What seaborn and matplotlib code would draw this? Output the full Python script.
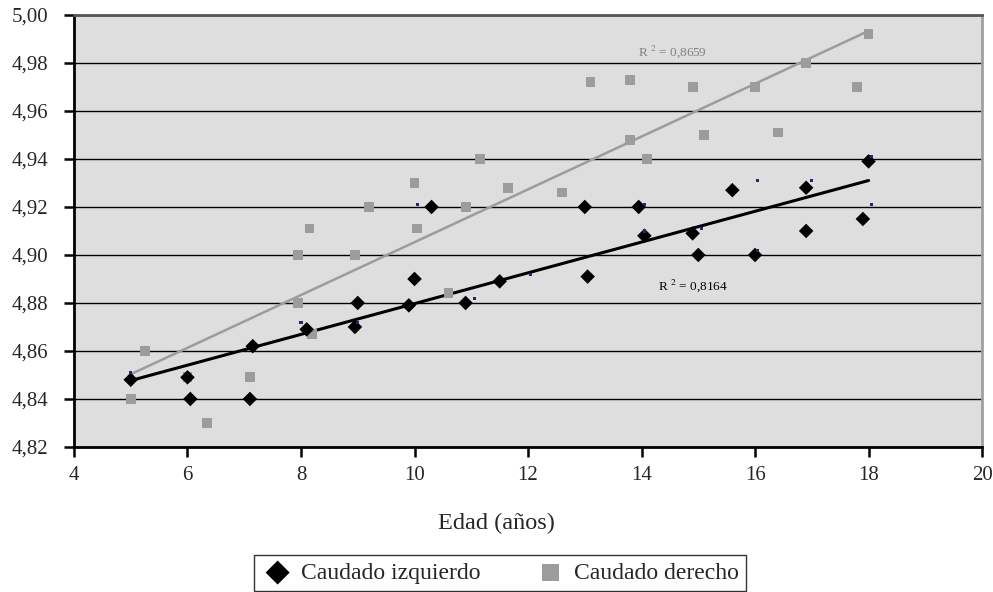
import matplotlib
matplotlib.use("Agg")
import matplotlib.pyplot as plt
import seaborn as sns
import pandas as pd
from matplotlib.ticker import FuncFormatter

# Caudado izquierdo (black diamonds)
izq_edad = [5.0, 6.0, 6.05, 7.1, 7.15, 8.1, 8.95, 9.0, 9.9, 10.0, 10.3, 10.9, 11.5,
            13.0, 13.05, 13.95, 14.05, 14.9, 15.0, 15.6, 16.0, 16.9, 16.9, 17.9, 18.0]
izq_vol = [4.848, 4.849, 4.840, 4.840, 4.862, 4.869, 4.870, 4.880, 4.879, 4.890, 4.920, 4.880, 4.889,
           4.920, 4.891, 4.920, 4.908, 4.909, 4.900, 4.927, 4.900, 4.928, 4.910, 4.915, 4.939]

# Caudado derecho (gray squares)
der_edad = [5.0, 5.25, 6.0, 6.35, 7.1, 7.95, 7.95, 8.15, 8.2, 8.95, 9.2, 10.0, 10.05, 10.6,
            10.9, 11.15, 11.65, 12.6, 13.1, 13.8, 13.8, 14.1, 14.9, 15.1, 16.0, 16.4, 16.9, 17.8, 18.0]
der_vol = [4.840, 4.860, 4.849, 4.830, 4.849, 4.900, 4.880, 4.911, 4.867, 4.900, 4.920, 4.930, 4.911, 4.884,
           4.920, 4.940, 4.928, 4.926, 4.972, 4.973, 4.948, 4.940, 4.970, 4.950, 4.970, 4.951, 4.980, 4.970, 4.992]

# tiny navy marks (unlabelled series)
otro_edad = [5.0, 8.0, 9.0, 10.05, 11.05, 12.05, 14.05, 14.05, 15.05, 16.05, 16.05, 17.0, 18.05, 18.05]
otro_vol = [4.851, 4.872, 4.872, 4.921, 4.882, 4.892, 4.921, 4.910, 4.911, 4.931, 4.902, 4.931, 4.941, 4.921]

r2_labels = ["R $^{2}$ = 0,8164", "R $^{2}$ = 0,8659"]
y_ticks = [4.82, 4.84, 4.86, 4.88, 4.90, 4.92, 4.94, 4.96, 4.98, 5.00]
x_ticks = [4, 6, 8, 10, 12, 14, 16, 18, 20]

df_izq = pd.DataFrame({"edad": izq_edad, "vol": izq_vol})
df_der = pd.DataFrame({"edad": der_edad, "vol": der_vol})
df_otro = pd.DataFrame({"edad": otro_edad, "vol": otro_vol})

sns.set_style("white")
plt.rcParams["font.family"] = ["Liberation Serif", "DejaVu Serif"]
plt.rcParams["mathtext.fontset"] = "stix"

fig = plt.figure(figsize=(9.93, 5.92), dpi=100)
ax = fig.add_axes([0.0745, 0.245, 0.9145, 0.7297])
ax.set_facecolor("#dedede")

for y in y_ticks:
    ax.axhline(y, color="black", linewidth=1.0, zorder=1)

gray = "#9c9c9c"
sns.regplot(data=df_der, x="edad", y="vol", scatter=False, ci=None, ax=ax,
            line_kws={"color": gray, "linewidth": 1.8, "zorder": 2})
sns.regplot(data=df_izq, x="edad", y="vol", scatter=False, ci=None, ax=ax,
            line_kws={"color": "black", "linewidth": 2.2, "zorder": 2})

sns.scatterplot(data=df_der, x="edad", y="vol", marker="s", s=50, color=gray,
                edgecolor="none", ax=ax, zorder=3, label="Caudado derecho")
sns.scatterplot(data=df_izq, x="edad", y="vol", marker="D", s=55, color="black",
                edgecolor="none", ax=ax, zorder=4, label="Caudado izquierdo")
sns.scatterplot(data=df_otro, x="edad", y="vol", marker="s", s=5, color="#1c2a6e",
                edgecolor="none", ax=ax, zorder=5)

ax.text(14.9, 4.887, r2_labels[0], fontsize=9.5, color="black", ha="center", va="center")
ax.text(14.54, 4.9846, r2_labels[1], fontsize=9.5, color="#808080", ha="center", va="center")

ax.set_xlim(4, 20)
ax.set_ylim(4.82, 5.00)
ax.set_xticks(x_ticks)
ax.set_yticks(y_ticks)
ax.yaxis.set_major_formatter(FuncFormatter(lambda v, p: f"{v:.2f}".replace(".", ",")))
ax.tick_params(axis="both", direction="out", length=7.5, width=1.8, labelsize=15, color="black",
               left=True, bottom=True)
ax.tick_params(axis="y", pad=11)
ax.tick_params(axis="x", pad=6)
ax.set_ylabel("")
ax.set_xlabel("Edad (años)", fontsize=17.5)
ax.xaxis.label.set_va("center")
ax.xaxis.set_label_coords(0.465, -0.178)

ax.spines["left"].set_color("black")
ax.spines["left"].set_linewidth(2)
ax.spines["bottom"].set_color("black")
ax.spines["bottom"].set_linewidth(2)
ax.spines["top"].set_color("#555555")
ax.spines["top"].set_linewidth(2)
ax.spines["right"].set_color("#a0a0a0")
ax.spines["right"].set_linewidth(2)

handles, labels = ax.get_legend_handles_labels()
ax.legend_.remove()
order = [labels.index("Caudado izquierdo"), labels.index("Caudado derecho")]
leg = fig.legend([handles[i] for i in order], [labels[i] for i in order],
                 loc="center", bbox_to_anchor=(500 / 993, 1 - 573 / 592), ncol=2, fontsize=17,
                 frameon=True, fancybox=False, edgecolor="black", columnspacing=2.25,
                 handlelength=1.4, handletextpad=0.3, borderpad=0.3, markerscale=1.65)
leg.get_frame().set_linewidth(1.0)

fig.savefig("out.png", dpi=100)
